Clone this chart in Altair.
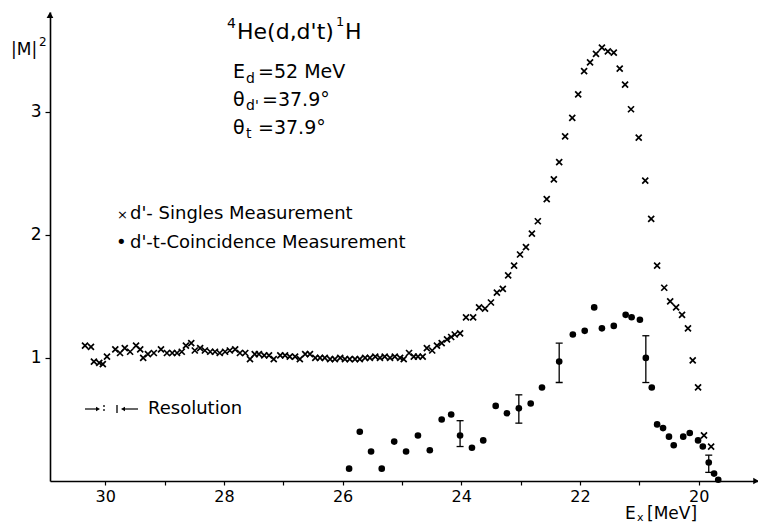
import altair as alt
import pandas as pd

# ---- data ----
singles_e = [30.34, 30.24, 30.19, 30.10, 30.04, 29.97, 29.83, 29.75, 29.67, 29.58,
             29.48, 29.41, 29.36, 29.28, 29.18, 29.06, 28.96, 28.87, 28.79, 28.71,
             28.64, 28.55, 28.49, 28.40, 28.32, 28.23, 28.15, 28.07, 27.98, 27.90,
             27.81, 27.73, 27.64, 27.56, 27.48, 27.41, 27.32, 27.24, 27.16, 27.05,
             26.97, 26.89, 26.80, 26.72, 26.63, 26.55, 26.46, 26.38, 26.30, 26.21,
             26.13, 26.04, 25.96, 25.88, 25.79, 25.71, 25.62, 25.54, 25.45, 25.37,
             25.29, 25.20, 25.12, 25.03, 24.97, 24.88, 24.80, 24.73, 24.65, 24.58,
             24.49, 24.41, 24.33, 24.24, 24.17, 24.11, 24.02, 23.92, 23.80, 23.70,
             23.60, 23.50, 23.40, 23.30, 23.21, 23.11, 23.01, 22.91, 22.81, 22.71,
             22.56, 22.44, 22.35, 22.25, 22.13, 22.03, 21.93, 21.83, 21.73, 21.63,
             21.53, 21.43, 21.33, 21.24, 21.14, 21.01, 20.90, 20.80, 20.70, 20.58,
             20.48, 20.38, 20.28, 20.18, 20.10, 20.01, 19.91, 19.79]
singles_m = [1.10, 1.09, 0.97, 0.96, 0.95, 1.01, 1.07, 1.04, 1.08, 1.05,
             1.10, 1.07, 1.00, 1.03, 1.04, 1.07, 1.04, 1.04, 1.04, 1.05,
             1.10, 1.12, 1.06, 1.08, 1.06, 1.05, 1.05, 1.04, 1.05, 1.06,
             1.07, 1.04, 1.04, 0.99, 1.03, 1.03, 1.02, 1.02, 0.99, 1.02,
             1.02, 1.01, 1.01, 0.99, 1.03, 1.03, 1.00, 1.00, 1.00, 0.99,
             0.99, 1.00, 0.99, 0.99, 0.99, 0.99, 1.00, 1.00, 1.01, 1.00,
             1.01, 1.00, 1.01, 1.00, 0.99, 1.04, 1.01, 1.01, 1.01, 1.08,
             1.06, 1.10, 1.12, 1.15, 1.17, 1.19, 1.20, 1.33, 1.33, 1.41,
             1.40, 1.45, 1.53, 1.56, 1.67, 1.75, 1.84, 1.90, 2.01, 2.11,
             2.29, 2.45, 2.59, 2.80, 2.95, 3.14, 3.33, 3.40, 3.47, 3.52,
             3.49, 3.48, 3.35, 3.22, 3.02, 2.79, 2.44, 2.13, 1.75, 1.57,
             1.46, 1.41, 1.35, 1.24, 0.98, 0.76, 0.37, 0.28]

coinc_e = [25.89, 25.71, 25.52, 25.34, 25.13, 24.93, 24.73, 24.53, 24.33, 24.17,
           24.02, 23.82, 23.63, 23.42, 23.23, 23.03, 22.83, 22.64, 22.35, 22.12,
           21.92, 21.76, 21.63, 21.43, 21.23, 21.13, 20.99, 20.89, 20.79, 20.70,
           20.60, 20.50, 20.42, 20.26, 20.15, 20.01, 19.93, 19.83, 19.74, 19.67]
coinc_m = [0.10, 0.40, 0.24, 0.10, 0.32, 0.24, 0.37, 0.25, 0.50, 0.54,
           0.37, 0.27, 0.33, 0.61, 0.55, 0.59, 0.63, 0.76, 0.97, 1.19,
           1.22, 1.41, 1.24, 1.26, 1.35, 1.33, 1.31, 1.00, 0.76, 0.46,
           0.43, 0.36, 0.29, 0.36, 0.39, 0.33, 0.28, 0.15, 0.06, 0.01]

err_e = [24.02, 23.03, 22.35, 20.89, 19.83]
err_lo = [0.28, 0.47, 0.80, 0.80, 0.07]
err_hi = [0.49, 0.70, 1.12, 1.18, 0.21]

x_tick_values = list(range(20, 31))
y_tick_values = [1, 2, 3]
x_domain = [19.0, 30.93]
y_domain = [0, 3.81]

FONT = "DejaVu Sans"
W, H = 708, 469
LEFT, TOP = 50, 12

singles = pd.DataFrame({"E": singles_e, "M": singles_m})
coinc = pd.DataFrame({"E": coinc_e, "M": coinc_m})
errs = pd.DataFrame({"E": err_e, "lo": err_lo, "hi": err_hi})

xscale = alt.Scale(domain=x_domain, reverse=True, nice=False, zero=False)
yscale = alt.Scale(domain=y_domain, nice=False, zero=True)

x_enc = alt.X("E:Q", scale=xscale, axis=alt.Axis(
    values=x_tick_values, title=None, grid=False, format="d",
    labelExpr="datum.value % 2 == 0 ? datum.label : ''",
    tickSize=4, labelPadding=3, labelFontSize=16, labelFont=FONT,
    labelColor="black", domainColor="black", tickColor="black",
    domainWidth=1.6, tickWidth=1.2))
y_enc = alt.Y("M:Q", scale=yscale, axis=alt.Axis(
    values=y_tick_values, title=None, grid=False, format="d",
    tickSize=5, labelPadding=4, labelFontSize=17, labelFont=FONT,
    labelColor="black", domainColor="black", tickColor="black",
    domainWidth=1.6, tickWidth=1.2))

cross_path = "M-1,-1L1,1M-1,1L1,-1"

singles_layer = alt.Chart(singles).mark_point(
    shape=cross_path, size=36, stroke="black", strokeWidth=1.7, filled=False, opacity=1
).encode(x=x_enc, y=y_enc)

coinc_layer = alt.Chart(coinc).mark_circle(size=44, color="black", opacity=1).encode(
    x=alt.X("E:Q", scale=xscale), y=alt.Y("M:Q", scale=yscale))

err_rule = alt.Chart(errs).mark_rule(color="black", strokeWidth=1.3).encode(
    x=alt.X("E:Q", scale=xscale), y=alt.Y("lo:Q", scale=yscale), y2="hi:Q")
err_cap_lo = alt.Chart(errs).mark_tick(orient="horizontal", size=7, thickness=1.3, color="black", opacity=1).encode(
    x=alt.X("E:Q", scale=xscale), y=alt.Y("lo:Q", scale=yscale))
err_cap_hi = alt.Chart(errs).mark_tick(orient="horizontal", size=7, thickness=1.3, color="black", opacity=1).encode(
    x=alt.X("E:Q", scale=xscale), y=alt.Y("hi:Q", scale=yscale))


def txt(t, px, py, size=18, align="left", baseline="middle"):
    """Annotation text placed at chart pixel (px, py)."""
    return alt.Chart(pd.DataFrame({"t": [t]})).mark_text(
        font=FONT, fontSize=size, align=align, baseline=baseline, color="black"
    ).encode(text="t:N", x=alt.value(px - LEFT), y=alt.value(py - TOP))


def tri(shape, px, py, size=40):
    return alt.Chart(pd.DataFrame({"a": [0]})).mark_point(
        shape=shape, size=size, filled=True, color="black", opacity=1
    ).encode(x=alt.value(px - LEFT), y=alt.value(py - TOP))


def seg(x1, y1, x2, y2, w=1.2, dash=None):
    kw = dict(color="black", strokeWidth=w)
    if dash:
        kw["strokeDash"] = dash
    return alt.Chart(pd.DataFrame({"a": [0]})).mark_rule(**kw).encode(
        x=alt.value(x1 - LEFT), x2=alt.value(x2 - LEFT),
        y=alt.value(y1 - TOP), y2=alt.value(y2 - TOP))


annotations = [
    # y axis label
    txt("|M|", 11, 50, size=17),
    txt("2", 39, 42, size=12),
    # reaction title
    txt("4", 227, 24, size=14),
    txt("He(d,d't)", 237, 32, size=22),
    txt("1", 336, 22, size=13),
    txt("H", 345, 32, size=22),
    # parameters
    txt("E", 233, 72, size=19),
    txt("d", 246, 79, size=14),
    txt("=52 MeV", 258, 72, size=19),
    txt("θ", 233, 100, size=19),
    txt("d'", 246, 106, size=14),
    txt("=37.9°", 262, 100, size=19),
    txt("θ", 233, 128, size=19),
    txt("t", 246, 134, size=14),
    txt("=37.9°", 258, 128, size=19),
    # legend
    txt("×", 117, 215, size=13),
    txt("d'- Singles Measurement", 130, 214, size=18),
    txt("•", 116, 243, size=18),
    txt("d'-t-Coincidence Measurement", 130, 243, size=18),
    # resolution
    seg(85, 409, 97, 409),
    tri("triangle-right", 98, 409, size=22),
    seg(104, 405, 104, 413, w=1.3, dash=[2, 2]),
    seg(117, 405, 117, 413, w=1.3),
    tri("triangle-left", 123, 409, size=22),
    seg(124, 409, 138, 409),
    txt("Resolution", 148, 409, size=18),
    # x axis title
    txt("E", 625, 514, size=17),
    txt("x", 637, 518, size=11),
    txt("[MeV]", 647, 514, size=17),
    # axis arrows
    tri("triangle-up", LEFT, TOP + 3, size=45),
    tri("triangle-right", LEFT + W - 2, TOP + H, size=40),
]

chart = alt.layer(
    singles_layer, coinc_layer, err_rule, err_cap_lo, err_cap_hi, *annotations
).properties(
    width=W, height=H,
    autosize=alt.AutoSizeParams(type="none"),
    padding={"left": LEFT, "top": TOP, "right": 758 - LEFT - W, "bottom": 523 - TOP - H},
    background="white",
).configure_view(stroke=None)

chart.save("out.html", embed_options={"renderer": "svg", "actions": False})
